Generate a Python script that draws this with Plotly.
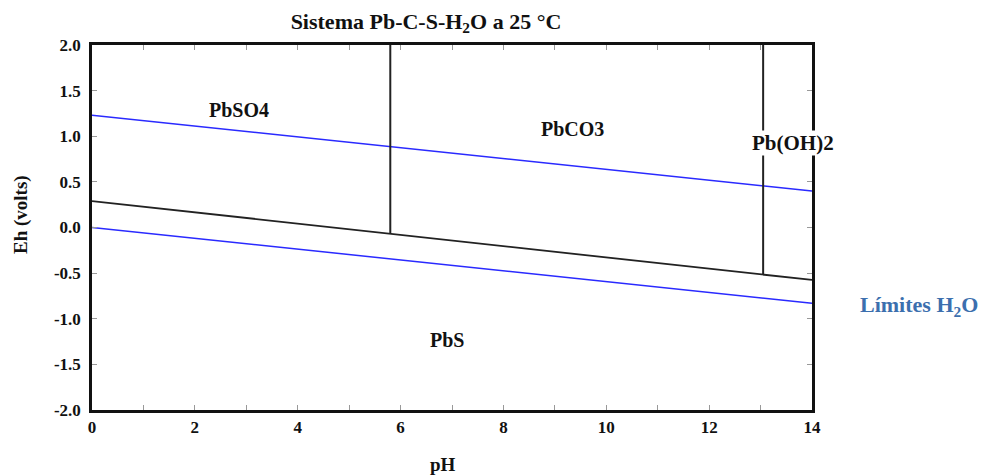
import plotly.graph_objects as go

# Data
ph_limits = [0, 14]
eh_o2_limit = [1.23, 0.40]
eh_h2_limit = [0.0, -0.83]
ph_sulfide = [0, 14]
eh_sulfide = [0.29, -0.575]
ph_v1 = [5.8, 5.8]
eh_v1 = [2.0, -0.07]
ph_v2 = [13.05, 13.05]
eh_v2 = [2.0, -0.51]

species = ["PbSO4", "PbCO3", "Pb(OH)2", "PbS"]
species_ph = [2.85, 9.35, 13.63, 6.9]
species_eh = [1.29, 1.08, 0.93, -1.23]

x_ticks = [0, 2, 4, 6, 8, 10, 12, 14]
y_ticks = [-2, -1.5, -1, -0.5, 0, 0.5, 1, 1.5, 2]
y_tick_labels = ["-2.0", "-1.5", "-1.0", "-0.5", "0.0", "0.5", "1.0", "1.5", "2.0"]

FONT = "Liberation Serif"
INK = "#111111"

# plot area in figure pixels (page has an 8px body offset)
OFF = 8
L, R, T, B = 84, 190, 37, 74
W, H = 994, 476
PW, PH = W - L - R, H - T - B

fig = go.Figure()
blue = "#2a2aff"
dark = "#222222"
fig.add_trace(go.Scatter(x=ph_limits, y=eh_o2_limit, mode="lines", line=dict(color=blue, width=1.5)))
fig.add_trace(go.Scatter(x=ph_limits, y=eh_h2_limit, mode="lines", line=dict(color=blue, width=1.5)))
fig.add_trace(go.Scatter(x=ph_sulfide, y=eh_sulfide, mode="lines", line=dict(color=dark, width=1.8)))
fig.add_trace(go.Scatter(x=ph_v1, y=eh_v1, mode="lines", line=dict(color=dark, width=2)))
fig.add_trace(go.Scatter(x=ph_v2, y=eh_v2, mode="lines", line=dict(color=dark, width=2)))

for name, x, y in zip(species, species_ph, species_eh):
    fig.add_annotation(x=x, y=y, text="<b>%s</b>" % name, showarrow=False,
                       xanchor="center", yanchor="middle",
                       font=dict(family=FONT, size=21 if name == "Pb(OH)2" else 20, color=INK),
                       bgcolor="white" if name == "Pb(OH)2" else None, borderpad=0)

def page_to_paper(px, py):
    fx, fy = px - OFF, py - OFF
    return (fx - L) / PW, (H - B - fy) / PH

lx, ly = page_to_paper(919, 306)
fig.add_annotation(xref="paper", yref="paper", x=lx, y=ly, xanchor="center", yanchor="middle",
                   text="<b>Límites H<sub>2</sub>O</b>", showarrow=False,
                   font=dict(family=FONT, size=22, color="#3c6fae"))

px_, py_ = page_to_paper(443, 464)
fig.add_annotation(xref="paper", yref="paper", x=px_, y=py_, xanchor="center", yanchor="middle",
                   text="<b>pH</b>", showarrow=False,
                   font=dict(family=FONT, size=19, color=INK))
ex, ey = page_to_paper(21, 215)
fig.add_annotation(xref="paper", yref="paper", x=ex, y=ey, xanchor="center", yanchor="middle",
                   text="<b>Eh (volts)</b>", showarrow=False,
                   textangle=-90, font=dict(family=FONT, size=19, color=INK))

fig.update_layout(
    width=W, height=H,
    margin=dict(l=L, r=R, t=T, b=B),
    paper_bgcolor="white", plot_bgcolor="white",
    showlegend=False,
    title=dict(text="<b>Sistema Pb-C-S-H<sub>2</sub>O a 25 °C</b>", x=(426 - OFF) / W, xanchor="center",
               y=1 - 13 / H, yanchor="middle",
               font=dict(family=FONT, size=22, color=INK)),
    font=dict(family=FONT, color=INK),
)
fig.update_xaxes(range=[0, 14], tickvals=x_ticks, ticks="inside", ticklen=5,
                 tickcolor="#999", showgrid=False, zeroline=False, showline=True, linecolor=INK,
                 linewidth=2.5, mirror="allticks",
                 minor=dict(dtick=1, ticks="inside", ticklen=5, tickcolor="#999", showgrid=False),
                 tickfont=dict(family=FONT, size=17, color=INK, weight="bold"))
fig.update_yaxes(range=[-2, 2], tickvals=y_ticks, ticktext=y_tick_labels,
                 ticks="inside", ticklen=5, tickcolor="#999", showgrid=False, zeroline=False,
                 showline=True, linecolor=INK, linewidth=2.5, mirror="allticks",
                 ticklabelstandoff=5,
                 tickfont=dict(family=FONT, size=17, color=INK, weight="bold"))

fig.write_html("out.html")
